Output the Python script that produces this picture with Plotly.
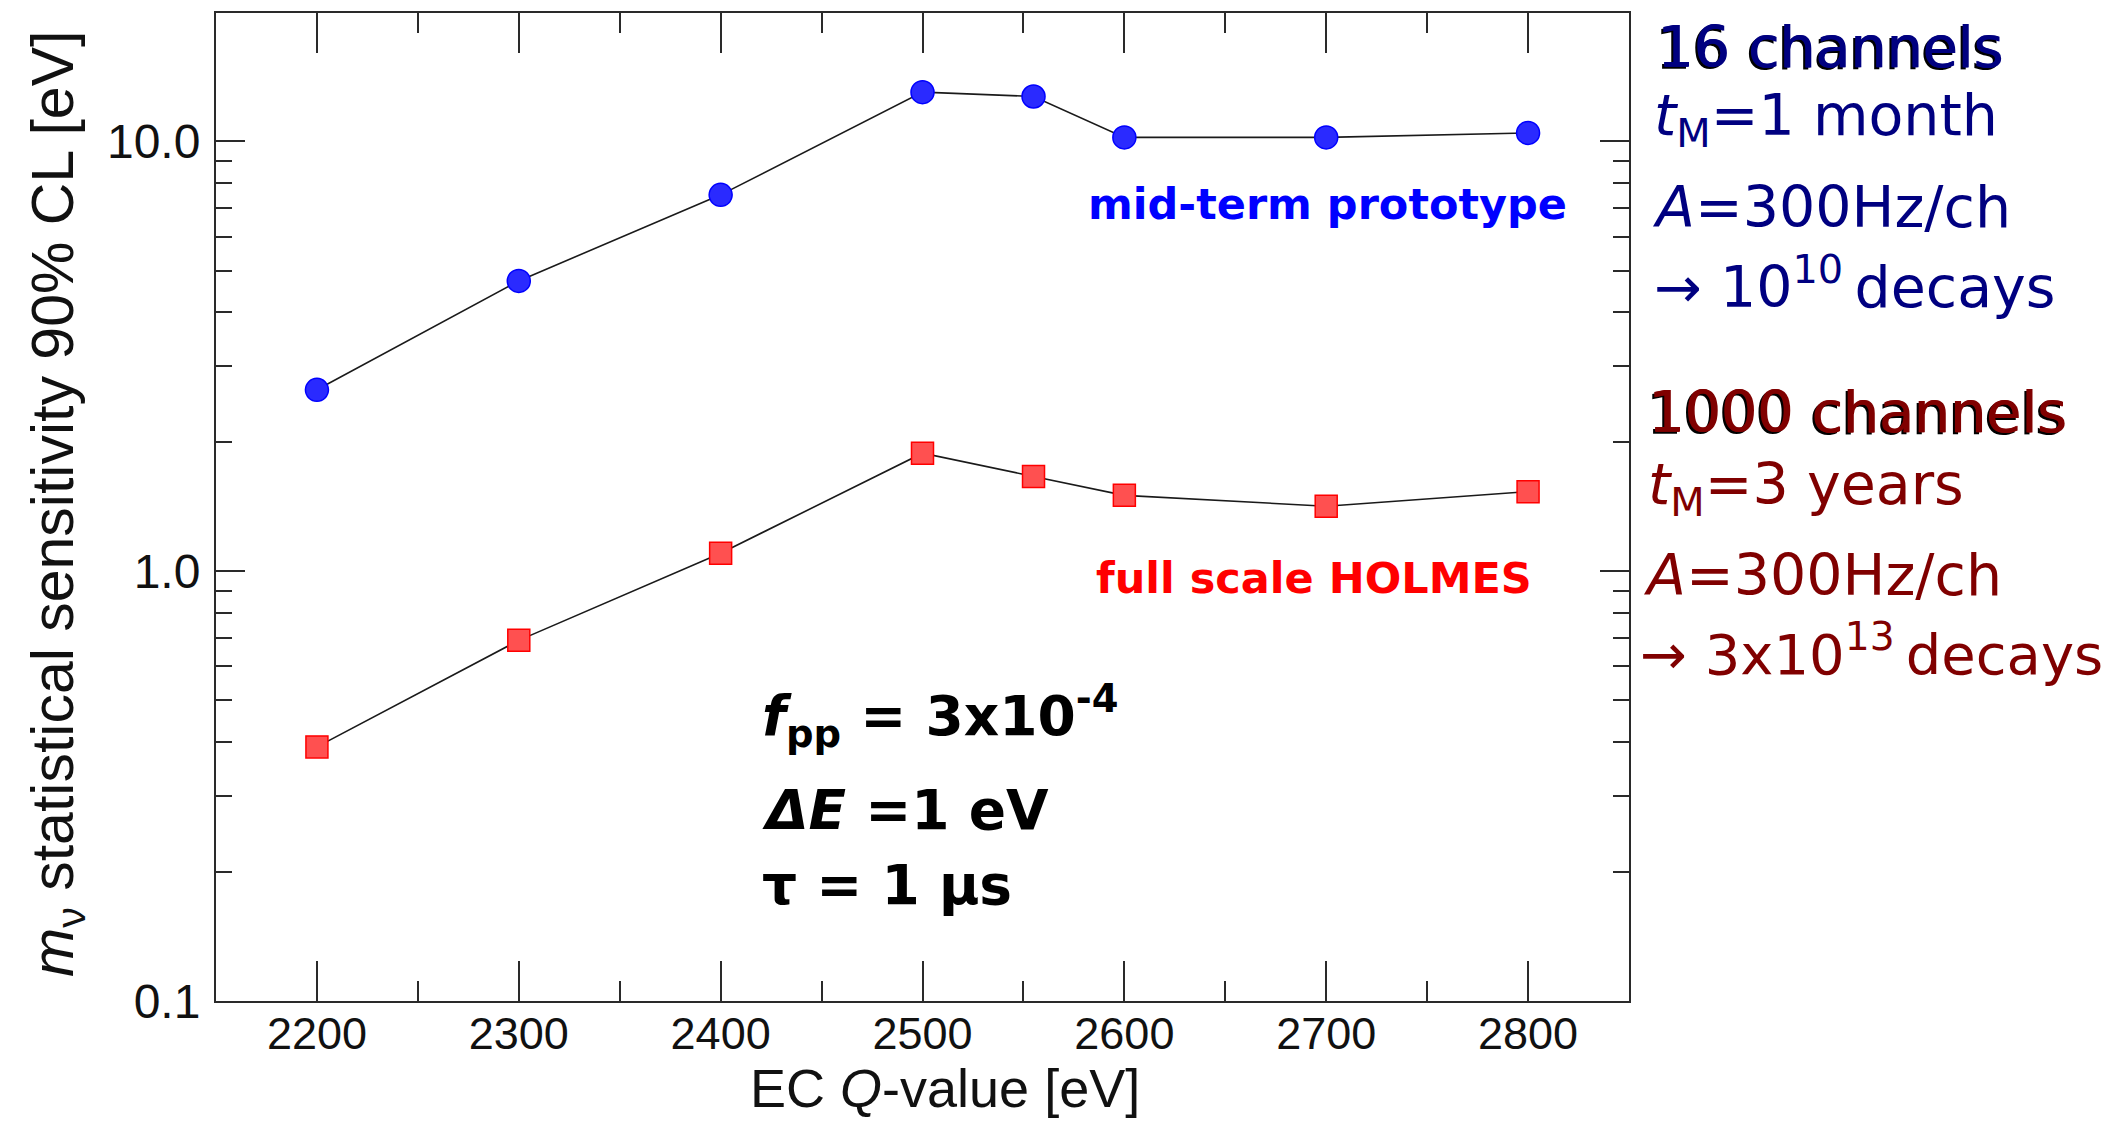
import plotly.graph_objects as go

# EC Q-value scan points [eV]
q_values = [2200, 2300, 2400, 2500, 2555, 2600, 2700, 2800]
# m_nu statistical sensitivity (90% CL) [eV]
sens_midterm = [2.64, 4.73, 7.5, 13.0, 12.7, 10.2, 10.2, 10.45]
sens_full = [0.39, 0.69, 1.10, 1.88, 1.66, 1.50, 1.415, 1.53]

x_major = [2200, 2300, 2400, 2500, 2600, 2700, 2800]
x_minor = [2250, 2350, 2450, 2550, 2650, 2750]
y_major = [0.1, 1.0, 10.0]
y_major_text = ["0.1", "1.0", "10.0"]
y_minor = [m * d for d in (0.1, 1.0) for m in range(2, 10)] + [20.0]

W, H = 2116, 1123
L, R, T, B = 216, 1629, 13, 1001


def px(x):
    return (x - L) / (R - L)


def py(y):
    return (B - y) / (B - T)


fig = go.Figure()

fig.add_trace(go.Scatter(
    x=q_values, y=sens_midterm, mode="lines+markers",
    line=dict(color="#1a1a1a", width=1.6),
    marker=dict(symbol="circle", size=23, color="#2a2aff",
                line=dict(color="#0000ff", width=1.5)),
    showlegend=False, hoverinfo="skip",
))
fig.add_trace(go.Scatter(
    x=q_values, y=sens_full, mode="lines+markers",
    line=dict(color="#1a1a1a", width=1.6),
    marker=dict(symbol="square", size=22, color="#ff5050",
                line=dict(color="#ff0000", width=1.5)),
    showlegend=False, hoverinfo="skip",
))

axis_col = "#2a2a2a"
fig.update_xaxes(
    range=[2150, 2850], tickvals=x_major,
    ticks="inside", ticklen=40, tickwidth=2, tickcolor=axis_col,
    minor=dict(tickvals=x_minor, ticks="inside", ticklen=20, tickwidth=2,
               tickcolor=axis_col, showgrid=False),
    showline=True, linewidth=2, linecolor=axis_col, mirror="ticks",
    showgrid=False, zeroline=False,
    tickfont=dict(family="Liberation Sans, Arial", size=45, color="#111"),
    ticklabelstandoff=-8,
)
fig.update_yaxes(
    type="log", range=[-1, 1.298], tickvals=y_major, ticktext=y_major_text,
    ticks="inside", ticklen=29, tickwidth=2, tickcolor=axis_col,
    minor=dict(tickvals=y_minor, ticks="inside", ticklen=16, tickwidth=2,
               tickcolor=axis_col, showgrid=False),
    showline=True, linewidth=2, linecolor=axis_col, mirror="ticks",
    showgrid=False, zeroline=False,
    tickfont=dict(family="Liberation Sans, Arial", size=48, color="#111"),
    ticklabelstandoff=4,
)

ann = []


def text(x, y, s, size, color, family="DejaVu Sans", xanchor="left", **kw):
    ann.append(dict(x=px(x), y=py(y), xref="paper", yref="paper", text=s,
                    showarrow=False, xanchor=xanchor, yanchor="middle",
                    font=dict(family=family, size=size, color=color, **kw)))


# axis titles
ann.append(dict(x=px(945), y=py(1088), xref="paper", yref="paper",
                text="EC <i>Q</i>-value [eV]", showarrow=False,
                xanchor="center", yanchor="middle",
                font=dict(family="Liberation Sans, Arial", size=54, color="#111")))
ann.append(dict(x=px(57), y=py(504), xref="paper", yref="paper",
                text="<i>m</i><sub>ν</sub> statistical sensitivity 90% CL [eV]",
                showarrow=False, textangle=-90, xanchor="center", yanchor="middle",
                font=dict(family="Liberation Sans, Arial", size=59, color="#111")))

# series labels
text(1569, 204, "<b>mid-term prototype</b>", 43, "#0000ff", xanchor="right")
text(1534, 578, "<b>full scale HOLMES</b>", 43, "#ff0000", xanchor="right")

# simulation parameters
text(760, 716, "<b><i>f</i><sub>pp</sub> = 3x10<sup>-4</sup></b>", 55, "#000000")
text(760, 810, "<b><i>ΔE</i> =1 eV</b>", 55, "#000000")
text(760, 885, "<b>τ = 1 µs</b>", 55, "#000000")

# exposure blocks
navy = "#000080"
dred = "#800000"
thin = "\u2009"
text(1655, 47, "16 channels", 57, navy,
     shadow="1px 0px 0px %s, -2px 2px 0px #000000" % navy)
text(1652, 119, "<i>t</i><sub>M</sub>=1 month", 57, navy)
text(1650, 207, "<i>A</i>=300Hz/ch", 57, navy)
text(1652, 283, "→ 10<sup>10</sup>" + thin + "decays", 57, navy)

text(1646, 412, "1000 channels", 57, dred,
     shadow="1px 0px 0px %s, -2px 2px 0px #000000" % dred)
text(1646, 488, "<i>t</i><sub>M</sub>=3 years", 57, dred)
text(1641, 575, "<i>A</i>=300Hz/ch", 57, dred)
text(1638, 650, "→ 3x10<sup>13</sup>" + thin + "decays", 56, dred)

fig.update_layout(
    width=W, height=H, autosize=False,
    margin=dict(l=L, r=W - R, t=T, b=H - B, pad=0),
    paper_bgcolor="white", plot_bgcolor="white",
    annotations=ann,
)

fig.write_html("out.html")
